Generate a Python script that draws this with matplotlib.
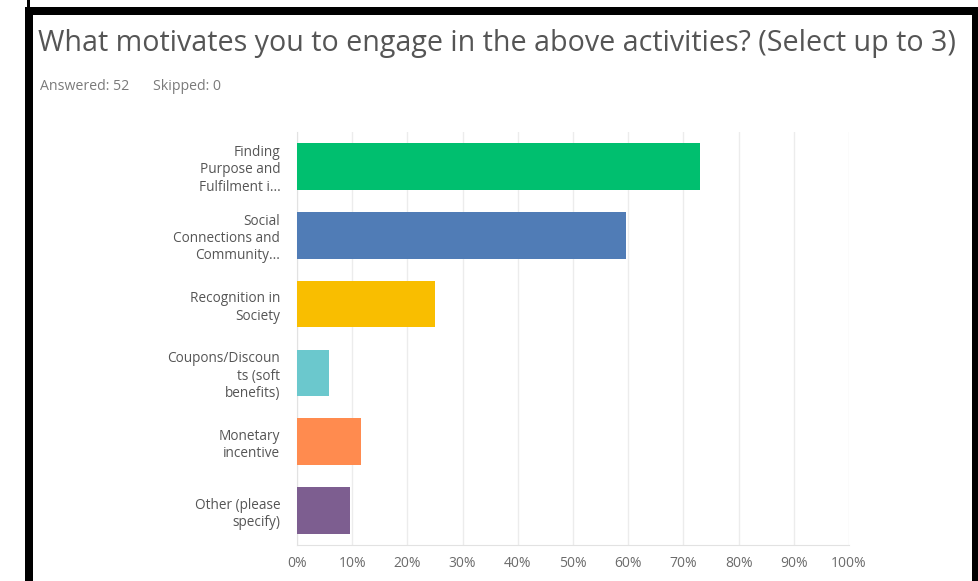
import matplotlib
matplotlib.use("Agg")
import matplotlib.pyplot as plt
import matplotlib.patches as patches

categories = [
    "Finding\nPurpose and\nFulfilment i...",
    "Social\nConnections and\nCommunity...",
    "Recognition in\nSociety",
    "Coupons/Discoun\nts (soft\nbenefits)",
    "Monetary\nincentive",
    "Other (please\nspecify)",
]
responses = [73.08, 59.62, 25.00, 5.77, 11.54, 9.62]
colors = ["#00bf6f", "#507cb6", "#f9be00", "#6bc8cd", "#ff8b4f", "#7d5e90"]
ticks = [0, 10, 20, 30, 40, 50, 60, 70, 80, 90, 100]

plt.rcParams["font.family"] = ["Open Sans", "DejaVu Sans"]

fig = plt.figure(figsize=(9.79, 5.81), dpi=100)
ax = fig.add_axes([297 / 979, 36 / 581, 552 / 979, 413 / 581])

ypos = list(range(len(categories)))
ax.barh(ypos, responses, height=0.68, color=colors, zorder=3)

ax.set_xlim(0, 100)
ax.set_ylim(len(categories) - 0.5, -0.5)
ax.set_xticks(ticks)
ax.set_xticklabels([f"{t}%" for t in ticks], fontsize=10, color="#6b6b6b")
ax.set_yticks(ypos)
ax.set_yticklabels(categories, fontsize=9.8, color="#555555", linespacing=1.22)
ax.tick_params(axis="both", length=0)
ax.tick_params(axis="x", pad=8)
ax.tick_params(axis="y", pad=12)

ax.grid(axis="x", color="#ececec", linewidth=1, zorder=0)
for side in ("top", "right"):
    ax.spines[side].set_visible(False)
ax.spines["left"].set_color("#e2e2e2")
ax.spines["bottom"].set_color("#e2e2e2")

fig.text(38 / 979, 1 - 43 / 581, "What motivates you to engage in the above activities? (Select up to 3)",
         fontsize=20.6, color="#555555", va="center", ha="left")
fig.text(40 / 979, 1 - 86 / 581, "Answered: 52", fontsize=10.2, color="#7a7a7a", va="center")
fig.text(153 / 979, 1 - 86 / 581, "Skipped: 0", fontsize=10.2, color="#7a7a7a", va="center")

# black frame edges
black = dict(facecolor="black", edgecolor="none", transform=fig.transFigure, figure=fig)
fig.patches.append(patches.Rectangle((27 / 979, 0), 3 / 979, 1, **black))
fig.patches.append(patches.Rectangle((25 / 979, 0), 8 / 979, 1 - 8 / 581, **black))
fig.patches.append(patches.Rectangle((25 / 979, 1 - 15 / 581), 954 / 979, 8 / 581, **black))
fig.patches.append(patches.Rectangle((972 / 979, 0), 7 / 979, 1 - 8 / 581, **black))

fig.savefig("out.png", dpi=100)
